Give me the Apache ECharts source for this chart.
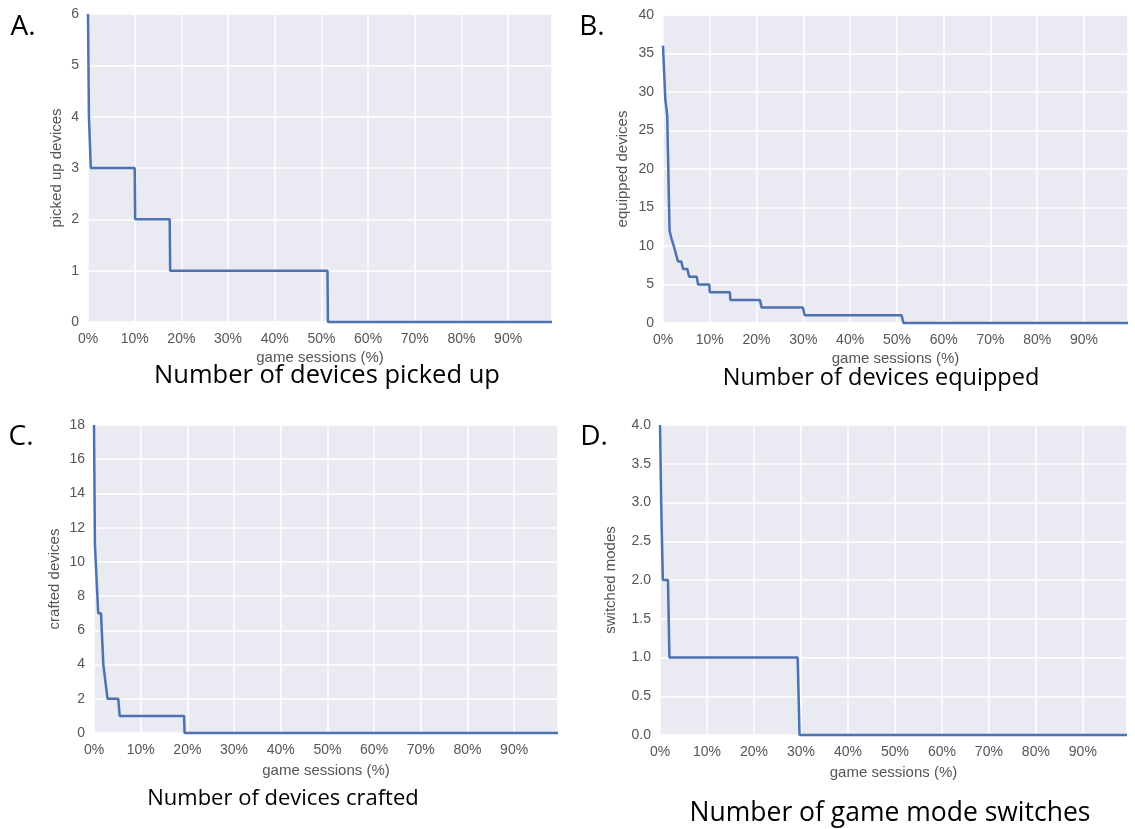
<!DOCTYPE html>
<html>
<head>
<meta charset="utf-8">
<script src="https://cdn.jsdelivr.net/npm/echarts@6/dist/echarts.min.js"></script>
<style>
  html, body { margin: 0; padding: 0; background: #fff; }
  #main { width: 1135px; height: 829px; }
</style>
</head>
<body>
<div id="main"></div>
<script>
// 数据：横轴为游戏场次百分比，纵轴为数量（阶梯曲线的拐点）
var pickedPct = [0, 0.2, 0.4, 0.6, 10.0, 10.1, 17.5, 17.6, 51.3, 51.4, 99.4];
var pickedVal = [6, 4, 4, 3, 3, 2, 2, 1, 1, 0, 0];

var equippedPct = [0, 0.5, 0.9, 1.4, 1.8, 2.0, 2.3, 2.7, 3.2, 3.9, 4.3, 5.2, 5.6, 7.2, 7.5, 9.9, 10.0, 14.3, 14.4, 20.7, 21.1, 29.9, 30.3, 51.0, 51.4, 99.4];
var equippedVal = [36, 29, 27, 12, 11, 11, 10, 10, 8, 8, 7, 7, 6, 6, 5, 5, 4, 4, 3, 3, 2, 2, 1, 1, 0, 0];

var craftedPct = [0, 0.2, 0.9, 1.5, 2.0, 2.4, 2.9, 5.2, 5.5, 19.3, 19.4, 99.4];
var craftedVal = [18, 11, 7, 7, 4, 4, 2, 2, 1, 1, 0, 0];

var switchPct = [0, 0.25, 0.6, 1.7, 2.0, 29.3, 29.7, 99.4];
var switchVal = [4, 3, 2, 2, 1, 1, 0, 0];

var xTicks = [0, 10, 20, 30, 40, 50, 60, 70, 80, 90];

var yNames = ["picked up devices", "equipped devices", "crafted devices", "switched modes"];
var yMax = [6, 40, 18, 4];
var yStep = [1, 5, 2, 0.5];
var captions = ["Number of devices picked up", "Number of devices equipped", "Number of devices crafted", "Number of game mode switches"];
var letters = ["A.", "B.", "C.", "D."];

function zip(xs, ys) {
    var out = [];
    for (var i = 0; i < xs.length; i++) out.push([xs[i], ys[i]]);
    return out;
}

var seriesData = [
    zip(pickedPct, pickedVal),
    zip(equippedPct, equippedVal),
    zip(craftedPct, craftedVal),
    zip(switchPct, switchVal)
];

// 四个面板的位置
var grids = [
    { left: 88, top: 14, width: 464, height: 308 },
    { left: 663, top: 15, width: 465, height: 308 },
    { left: 94, top: 425, width: 464, height: 308 },
    { left: 660, top: 425, width: 467, height: 310 }
];
var yNameGap = [24, 33, 32, 42];
var xNameGap = [28, 28, 30, 30];
var capPos = [[327, 376], [881, 378], [283, 799], [890, 813]];
var capSize = [25.5, 23.5, 22, 26.5];
var letterPos = [[23, 27], [592, 27], [21, 437], [594, 437]];

var labelColor = "#555";
var fontFam = "'Liberation Sans', Arial, sans-serif";

var option = {
    animation: false,
    backgroundColor: "#fff",
    grid: [],
    xAxis: [],
    yAxis: [],
    series: [],
    graphic: []
};

for (var i = 0; i < 4; i++) {
    var g = grids[i];
    option.grid.push({
        left: g.left, top: g.top, width: g.width, height: g.height,
        show: true, backgroundColor: "#EAEAF2", borderWidth: 0
    });
    option.xAxis.push({
        type: "value",
        gridIndex: i,
        min: 0,
        max: 99.4,
        interval: 10,
        name: "game sessions (%)",
        nameLocation: "middle",
        nameGap: xNameGap[i],
        nameTextStyle: { color: labelColor, fontSize: 15, fontFamily: fontFam },
        axisLine: { show: false },
        axisTick: { show: false },
        axisLabel: {
            color: labelColor, fontSize: 14, fontFamily: fontFam, margin: 10,
            showMaxLabel: false,
            formatter: function (v) { return xTicks.indexOf(v) >= 0 ? v + "%" : ""; }
        },
        splitLine: { lineStyle: { color: "#fff", width: 1.5 } }
    });
    (function (idx) {
        option.yAxis.push({
            type: "value",
            gridIndex: idx,
            min: 0,
            max: yMax[idx],
            interval: yStep[idx],
            name: yNames[idx],
            nameLocation: "middle",
            nameGap: yNameGap[idx],
            nameTextStyle: { color: labelColor, fontSize: 15, fontFamily: fontFam },
            axisLine: { show: false },
            axisTick: { show: false },
            axisLabel: {
                color: labelColor, fontSize: 14, fontFamily: fontFam, margin: 9,
                formatter: function (v) { return idx === 3 ? v.toFixed(1) : String(v); }
            },
            splitLine: { lineStyle: { color: "#fff", width: 1.5 } }
        });
    })(i);
    option.series.push({
        type: "line",
        xAxisIndex: i,
        yAxisIndex: i,
        data: seriesData[i],
        showSymbol: false,
        lineStyle: { color: "#4C72B0", width: 2.5 },
        clip: false
    });
    option.graphic.push({
        type: "text",
        x: capPos[i][0], y: capPos[i][1],
        style: {
            text: captions[i], fill: "#000", fontSize: capSize[i],
            fontFamily: "'Open Sans', 'Noto Sans', sans-serif",
            textAlign: "center", textVerticalAlign: "middle"
        }
    });
    option.graphic.push({
        type: "text",
        x: letterPos[i][0], y: letterPos[i][1],
        style: {
            text: letters[i], fill: "#000", fontSize: 28,
            fontFamily: "'Open Sans', 'Noto Sans', sans-serif",
            textAlign: "center", textVerticalAlign: "middle"
        }
    });
}

var myChart = echarts.init(document.getElementById("main"));
myChart.setOption(option);
</script>
</body>
</html>
